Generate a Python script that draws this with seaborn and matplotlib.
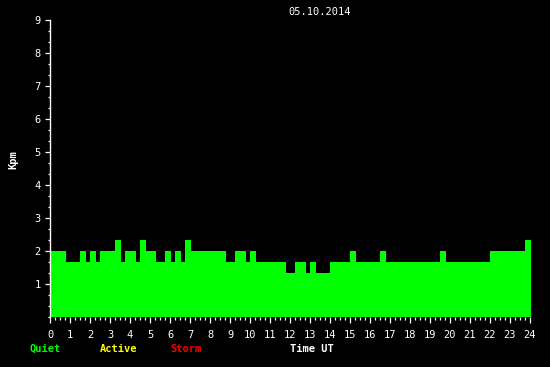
import numpy as np
import pandas as pd
import matplotlib
matplotlib.use("Agg")
import matplotlib.pyplot as plt
import seaborn as sns

# Kpm values every 15 minutes (UT), 05.10.2014
kpm = [
    2.0, 2.0, 2.0, 1.67, 1.67, 1.67, 2.0, 1.67, 2.0, 1.67, 2.0, 2.0,
    2.0, 2.33, 1.67, 2.0, 2.0, 1.67, 2.33, 2.0, 2.0, 1.67, 1.67, 2.0,
    1.67, 2.0, 1.67, 2.33, 2.0, 2.0, 2.0, 2.0, 2.0, 2.0, 2.0, 1.67,
    1.67, 2.0, 2.0, 1.67, 2.0, 1.67, 1.67, 1.67, 1.67, 1.67, 1.67, 1.33,
    1.33, 1.67, 1.67, 1.33, 1.67, 1.33, 1.33, 1.33, 1.67, 1.67, 1.67, 1.67,
    2.0, 1.67, 1.67, 1.67, 1.67, 1.67, 2.0, 1.67, 1.67, 1.67, 1.67, 1.67,
    1.67, 1.67, 1.67, 1.67, 1.67, 1.67, 2.0, 1.67, 1.67, 1.67, 1.67, 1.67,
    1.67, 1.67, 1.67, 1.67, 2.0, 2.0, 2.0, 2.0, 2.0, 2.0, 2.0, 2.33,
]
time_ut = np.arange(0, 24, 0.25)  # start of each 15-min interval (hours)
x_ticks = list(range(0, 25))
y_ticks = list(range(1, 10))
title = "05.10.2014"
legend_items = [("Quiet", "#00ff00"), ("Active", "#ffff00"), ("Storm", "#ff0000")]

sns.set_style("dark")
plt.rcParams["font.family"] = ["DejaVu Sans Mono", "DejaVu Sans"]

fig = plt.figure(figsize=(5.5, 3.67), dpi=100, facecolor="black")
ax = fig.add_axes([50 / 550, 1 - 317 / 367, 480 / 550, 297 / 367])
ax.set_facecolor("black")

bar_w = 0.3  # each bar spans 18 minutes
df = pd.DataFrame({"t": time_ut + bar_w / 2, "kpm": kpm})
sns.barplot(data=df, x="t", y="kpm", native_scale=True, width=1.2,
            color="#00ff00", saturation=1, linewidth=0, errorbar=None, ax=ax)
for p in ax.patches:
    p.set_clip_on(False)

ax.set_xlim(0, 24)
ax.set_ylim(0, 9)
ax.set_xticks(x_ticks)
ax.set_xticklabels([str(v) for v in x_ticks])
ax.set_xticks(np.arange(0, 24.01, 0.25), minor=True)
ax.set_yticks(y_ticks)
ax.set_yticklabels([str(v) for v in y_ticks])
ax.set_yticks(np.arange(0, 9.01, 1 / 3), minor=True)
ax.grid(False)
ax.set_xlabel("")
ax.set_ylabel("")

for s in ["top", "right", "bottom"]:
    ax.spines[s].set_visible(False)
ax.spines["left"].set_color("white")
ax.spines["left"].set_linewidth(1.0)

ax.tick_params(axis="both", which="both", colors="white", direction="out",
               labelsize=7.5, width=0.9, bottom=True, left=True,
               top=False, right=False)
ax.tick_params(axis="x", which="major", length=4.0, pad=5)
ax.tick_params(axis="x", which="minor", length=2.2)
ax.tick_params(axis="y", which="major", length=3.6, pad=3)
ax.tick_params(axis="y", which="minor", length=1.5)

fig.text(320 / 550, 1 - 12 / 367, title, color="white", fontsize=7.5,
         ha="center", va="center")
fig.text(13 / 550, 1 - 160 / 367, "Kpm", color="white", fontsize=7.5,
         fontweight="bold", rotation=90, ha="center", va="center")

leg_x = [30, 100, 170]
for (lab, col), lx in zip(legend_items, leg_x):
    fig.text(lx / 550, 1 - 349 / 367, lab, color=col, fontsize=7.5,
             fontweight="bold", ha="left", va="center")
fig.text(290 / 550, 1 - 349 / 367, "Time UT", color="white", fontsize=7.5,
         fontweight="bold", ha="left", va="center")

fig.savefig("out.png", dpi=100, facecolor="black")
